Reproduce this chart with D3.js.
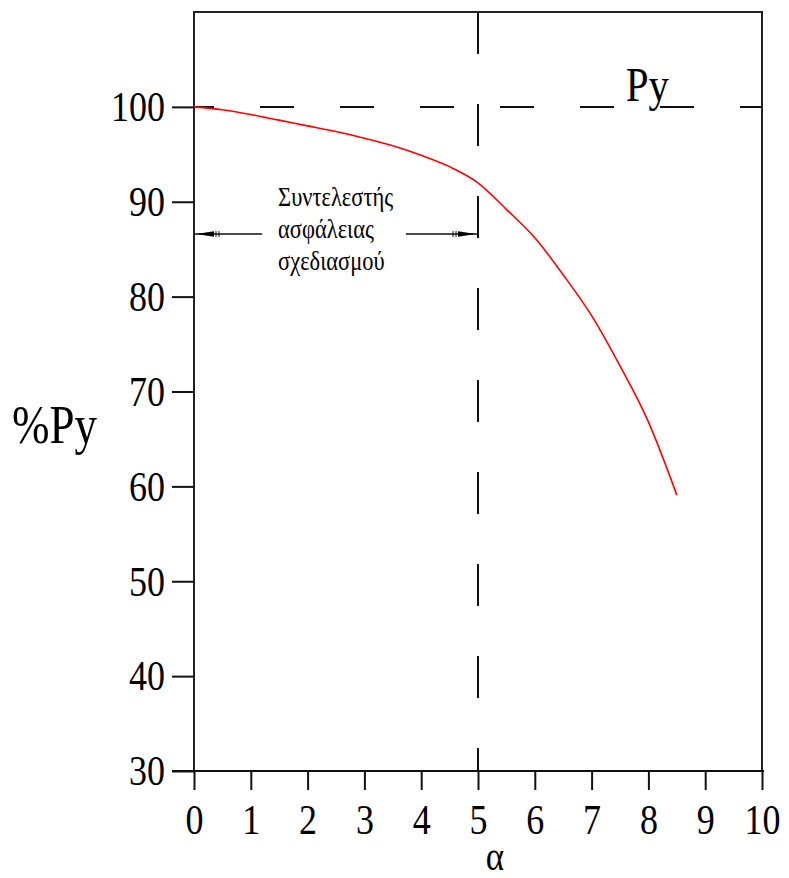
<!DOCTYPE html>
<html>
<head>
<meta charset="utf-8">
<script src="https://cdn.jsdelivr.net/npm/d3@7"></script>
<style>
  html, body { margin: 0; padding: 0; background: #fff; }
  svg text { font-family: 'Liberation Serif', 'Times New Roman', serif; fill: #000; }
</style>
</head>
<body>
<div id="chart"></div>
<script>
// values
const alphaValues = [0, 0.5, 1, 1.5, 2, 2.5, 3, 3.5, 4, 4.5, 5, 5.5, 6, 6.5, 7, 7.5, 8, 8.5];
const pctPy = [100, 99.7, 99.2, 98.6, 98.0, 97.4, 96.7, 95.9, 94.9, 93.7, 92.0, 89.2, 86.2, 82.3, 78.0, 72.7, 66.8, 59.1];
const xTicks = [0, 1, 2, 3, 4, 5, 6, 7, 8, 9, 10];
const yTicks = [30, 40, 50, 60, 70, 80, 90, 100];
const refLevel = 100;      // Py line
const designAlpha = 5;     // vertical dashed line
const arrowLevel = 86.6;   // annotation arrow height
const noteLines = ['Συντελεστής', 'ασφάλειας', 'σχεδιασμού'];

const width = 789, height = 878;
const margin = { left: 194, right: 27, top: 12, bottom: 107 };
const stretch = 1.2; // text in the source is a bit taller than wide

const svg = d3.select('#chart').append('svg')
  .attr('width', width)
  .attr('height', height);

const x = d3.scaleLinear().domain([0, 10]).range([margin.left, width - margin.right]);
const y = d3.scaleLinear().domain([30, 110]).range([height - margin.bottom, margin.top]);

// frame
svg.append('path')
  .attr('d', `M${x(0)},${y(30)}V${y(110)}H${x(10)}V${y(30)}`)
  .attr('fill', 'none')
  .attr('stroke', '#222')
  .attr('stroke-width', 2);

// y axis
const yAxis = svg.append('g')
  .attr('transform', `translate(${x(0)},0)`)
  .call(d3.axisLeft(y).tickValues(yTicks).tickSize(22).tickSizeOuter(0).tickPadding(7));
yAxis.select('.domain').remove();
yAxis.attr('font-family', null);
yAxis.selectAll('line').attr('stroke', '#111').attr('stroke-width', 2);
yAxis.selectAll('text')
  .attr('font-size', 36)
  .attr('transform', `scale(1,${stretch})`);

// x axis
const xAxis = svg.append('g')
  .attr('transform', `translate(0,${y(30)})`)
  .call(d3.axisBottom(x).tickValues(xTicks).tickSize(19).tickSizeOuter(0));
xAxis.select('.domain').remove();
xAxis.attr('font-family', null);
xAxis.selectAll('line').attr('stroke', '#111').attr('stroke-width', 2);
xAxis.selectAll('text')
  .attr('font-size', 36)
  .attr('y', 63 / stretch)
  .attr('dy', 0)
  .attr('transform', `scale(1,${stretch})`);
svg.append('line')
  .attr('x1', x(0) - 22).attr('x2', x(10) + 2)
  .attr('y1', y(30)).attr('y2', y(30))
  .attr('stroke', '#111').attr('stroke-width', 2);

// axis titles
svg.append('text')
  .attr('transform', `translate(${x(5.3)},${height - 8}) scale(1,${stretch})`)
  .attr('text-anchor', 'middle')
  .attr('font-size', 35)
  .text('α');
svg.append('text')
  .attr('transform', `translate(12,${y(64.55)}) scale(1,${stretch})`)
  .attr('font-size', 45)
  .text('%Py');

// reference dashed lines
svg.append('line')
  .attr('x1', x(0)).attr('x2', x(10))
  .attr('y1', y(refLevel)).attr('y2', y(refLevel))
  .attr('stroke', '#111').attr('stroke-width', 2)
  .attr('stroke-dasharray', '34,46')
  .attr('stroke-dashoffset', 14);
svg.append('line')
  .attr('x1', x(designAlpha)).attr('x2', x(designAlpha))
  .attr('y1', y(110)).attr('y2', y(30))
  .attr('stroke', '#111').attr('stroke-width', 2)
  .attr('stroke-dasharray', '42,50');

svg.append('text')
  .attr('transform', `translate(${x(7.6)},${y(100.6)}) scale(1,${stretch})`)
  .attr('font-size', 41)
  .text('Py');

// annotation with arrows
const ay = y(arrowLevel);
const arrow = svg.append('g').attr('stroke', '#111').attr('stroke-width', 1.5);
arrow.append('line').attr('x1', x(0)).attr('x2', x(1.2)).attr('y1', ay).attr('y2', ay);
arrow.append('line').attr('x1', x(3.73)).attr('x2', x(designAlpha)).attr('y1', ay).attr('y2', ay);
const head = (tip, dir) => {
  const g = svg.append('g');
  g.append('path')
    .attr('d', `M${tip},${ay}L${tip + dir * 18},${ay - 2.8}L${tip + dir * 18},${ay + 2.8}Z`)
    .attr('fill', '#000');
  [20, 23].forEach(o => g.append('line')
    .attr('x1', tip + dir * o).attr('x2', tip + dir * o)
    .attr('y1', ay - 3).attr('y2', ay + 3)
    .attr('stroke', '#111').attr('stroke-width', 1));
};
head(x(0) + 2, 1);
head(x(designAlpha) - 2, -1);

const note = svg.append('g');
noteLines.forEach((t, i) => {
  note.append('text')
    .attr('transform', `translate(${x(1.48)},${y(89.55) + i * 32}) scale(1,${stretch})`)
    .attr('font-size', 22.5)
    .text(t);
});

// curve
const line = d3.line()
  .x((d, i) => x(alphaValues[i]))
  .y(d => y(d))
  .curve(d3.curveMonotoneX);
svg.append('path')
  .datum(pctPy)
  .attr('d', line)
  .attr('fill', 'none')
  .attr('stroke', '#ff0000')
  .attr('stroke-width', 1.6);
</script>
</body>
</html>
